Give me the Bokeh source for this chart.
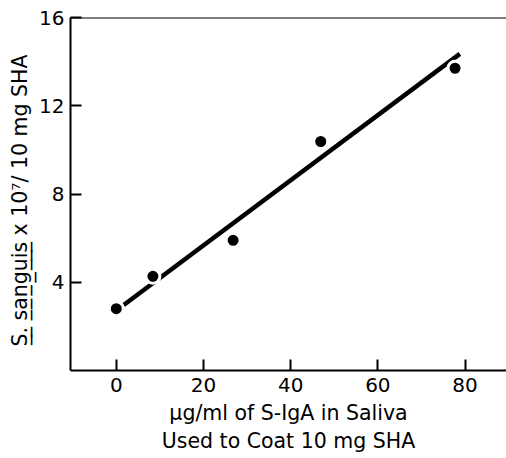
from bokeh.plotting import figure
from bokeh.models import Range1d, FixedTicker, Span
from bokeh.embed import file_html
from bokeh.resources import INLINE

# data
saliva_iga = [0, 8.4, 26.8, 46.9, 77.7]
bacteria = [2.8, 4.27, 5.9, 10.38, 13.7]
fit_x = [1.7, 78.8]
fit_y = [2.97, 14.35]
x_ticks = [0, 20, 40, 60, 80]
y_ticks = [4, 8, 12, 16]

FONT = "DejaVu Sans"
U = "\u0332"  # combining low line (underline)


def underline(s):
    return "".join(ch + U for ch in s)


y_title = underline("S.") + " " + underline("sanguis") + "  x  10\u2077/ 10 mg SHA"
x_title = "\u00b5g/ml of S-IgA in Saliva\nUsed to Coat 10 mg SHA"

p = figure(width=506, height=458, output_backend="svg", toolbar_location=None,
           x_range=Range1d(-10.5, 89.5), y_range=Range1d(0, 16),
           min_border_left=70, min_border_right=0, min_border_top=17, min_border_bottom=88)
p.outline_line_color = None
p.grid.grid_line_color = None
p.background_fill_color = "white"

for ax in (p.xaxis[0], p.yaxis[0]):
    ax.axis_line_width = 2
    ax.axis_line_color = "black"
    ax.major_tick_line_width = 2
    ax.major_tick_line_color = "black"
    ax.major_tick_out = 0
    ax.major_tick_in = 11
    ax.minor_tick_line_color = None
    ax.major_label_text_font = FONT
    ax.major_label_text_font_size = "20px"
    ax.major_label_text_color = "black"
    ax.axis_label_text_font = FONT
    ax.axis_label_text_font_style = "normal"
    ax.axis_label_text_font_size = "20.5px"
    ax.axis_label_text_color = "black"

p.xaxis.ticker = FixedTicker(ticks=x_ticks)
p.yaxis.ticker = FixedTicker(ticks=y_ticks)
p.xaxis.major_label_standoff = 7
p.yaxis.major_label_standoff = 6
p.xaxis.axis_label = x_title
p.xaxis.axis_label_standoff = 6
p.yaxis.axis_label = y_title
p.yaxis.axis_label_standoff = 4

p.add_layout(Span(location=16, dimension="width", line_color="black", line_width=2))

p.line(fit_x, fit_y, line_color="black", line_width=4.5)
p.scatter(saliva_iga, bacteria, size=14, fill_color="black", line_color="white", line_width=3)

html = file_html(p, INLINE)
open("out.html", "w").write(html)
